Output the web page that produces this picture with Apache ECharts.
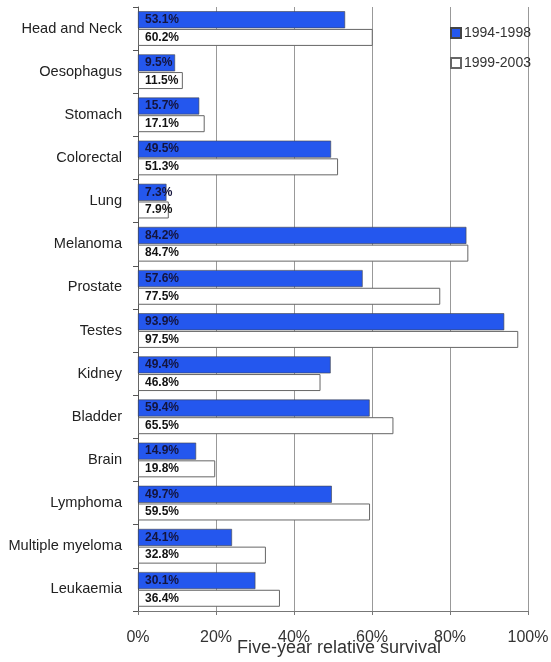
<!DOCTYPE html>
<html>
<head>
<meta charset="utf-8">
<script src="https://cdn.jsdelivr.net/npm/echarts@6/dist/echarts.min.js"></script>
<style>
  html, body { margin: 0; padding: 0; background: #fff; }
  #chart { width: 551px; height: 662px; }
</style>
</head>
<body>
<div id="chart"></div>
<script>
// Cancer sites, listed top to bottom
const sites = ['Head and Neck', 'Oesophagus', 'Stomach', 'Colorectal', 'Lung', 'Melanoma',
  'Prostate', 'Testes', 'Kidney', 'Bladder', 'Brain', 'Lymphoma', 'Multiple myeloma', 'Leukaemia'];

// Five-year relative survival (%) per period
const survival1994to1998 = [53.1, 9.5, 15.7, 49.5, 7.3, 84.2, 57.6, 93.9, 49.4, 59.4, 14.9, 49.7, 24.1, 30.1];
const survival1999to2003 = [60.2, 11.5, 17.1, 51.3, 7.9, 84.7, 77.5, 97.5, 46.8, 65.5, 19.8, 59.5, 32.8, 36.4];

const periodNames = ['1994-1998', '1999-2003'];
const xTicks = [0, 20, 40, 60, 80, 100];

const FONT = 'Liberation Sans, Arial, sans-serif';
const chart = echarts.init(document.getElementById('chart'));

const barLabel = (color) => ({
  show: true,
  position: 'insideLeft',
  distance: 7,
  fontFamily: FONT,
  fontSize: 12,
  fontWeight: 'bold',
  color: color,
  formatter: (p) => p.value.toFixed(1) + '%'
});

chart.setOption({
  animation: false,
  grid: { left: 138, right: 23, top: 7, bottom: 51, outerBoundsMode: 'none' },
  legend: {
    orient: 'vertical',
    left: 445,
    top: 21,
    itemWidth: 10,
    itemHeight: 10,
    itemGap: 16,
    icon: 'rect',
    textStyle: { fontFamily: FONT, fontSize: 14, color: '#333', padding: [0, 0, 0, -2] },
    data: periodNames
  },
  xAxis: {
    type: 'value',
    min: xTicks[0],
    max: xTicks[xTicks.length - 1],
    interval: 20,
    name: 'Five-year relative survival',
    nameLocation: 'middle',
    nameGap: 28,
    nameMoveOverlap: false,
    nameTextStyle: { fontFamily: FONT, fontSize: 18, color: '#333', padding: [0, 0, 0, 12] },
    axisLine: { show: true, lineStyle: { color: '#777' } },
    axisTick: { show: true, length: 4, lineStyle: { color: '#777' } },
    axisLabel: {
      fontFamily: FONT, fontSize: 16, color: '#333', margin: 19,
      formatter: (v) => v + '%'
    },
    splitLine: { show: true, lineStyle: { color: '#999', width: 1 } }
  },
  yAxis: {
    type: 'category',
    data: sites,
    inverse: true,
    axisLine: { show: true, lineStyle: { color: '#555' } },
    axisTick: { show: true, length: 5, lineStyle: { color: '#555' } },
    axisLabel: { fontFamily: FONT, fontSize: 14.6, color: '#222', margin: 16 }
  },
  series: [
    {
      name: periodNames[0],
      type: 'bar',
      data: survival1994to1998,
      barWidth: 17,
      barGap: '4%',
      itemStyle: { color: '#2457ee', borderColor: '#444', borderWidth: 0.6 },
      label: barLabel('#14143c')
    },
    {
      name: periodNames[1],
      type: 'bar',
      data: survival1999to2003,
      barWidth: 17,
      itemStyle: { color: '#ffffff', borderColor: '#666', borderWidth: 1 },
      label: barLabel('#111')
    }
  ]
});
</script>
</body>
</html>
